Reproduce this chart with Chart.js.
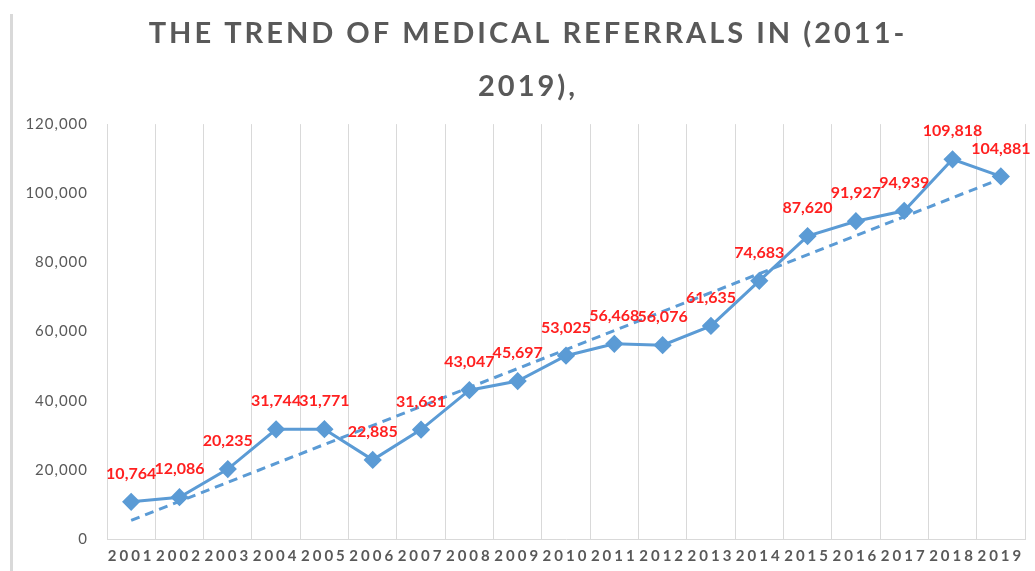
<!DOCTYPE html>
<html>
<head>
<meta charset="utf-8">
<script src="https://cdn.jsdelivr.net/npm/chart.js@4"></script>
<style>
  html, body { margin: 0; padding: 0; background: #fff; }
  #wrap { position: relative; width: 1035px; height: 571px; }
  #frame { position: absolute; left: 10px; top: 14px; width: 3px; height: 557px; background: #d9d9d9; }
  canvas { position: absolute; left: 0; top: 0; }
</style>
</head>
<body>
<div id="wrap">
  <div id="frame"></div>
  <canvas id="chart" width="1035" height="571"></canvas>
</div>
<script>
var years = ['2001', '2002', '2003', '2004', '2005', '2006', '2007', '2008', '2009', '2010',
             '2011', '2012', '2013', '2014', '2015', '2016', '2017', '2018', '2019'];
var referrals = [10764, 12086, 20235, 31744, 31771, 22885, 31631, 43047, 45697, 53025,
                 56468, 56076, 61635, 74683, 87620, 91927, 94939, 109818, 104881];
// dashed trend line, end values
var trendStart = 5400;
var trendEnd = 104200;
var yTicks = [0, 20000, 40000, 60000, 80000, 100000, 120000];
var titleLines = ['THE TREND OF MEDICAL REFERRALS IN (2011-', '2019),'];

var blue = '#5b9bd5';
var gray = '#595959';

function withSpacing(obj, method, px, dx) {
    var orig = obj[method];
    obj[method] = function () {
        var ctx = this.ctx;
        var prev = ctx.letterSpacing;
        ctx.save();
        ctx.letterSpacing = px;
        if (dx) ctx.translate(dx, 0);
        orig.apply(this, arguments);
        ctx.restore();
        ctx.letterSpacing = prev;
    };
}

var spacingPlugin = {
    id: 'spacing',
    beforeDraw: function (chart) {
        if (chart._spaced) return;
        chart._spaced = true;
        withSpacing(chart.scales.x, 'drawLabels', '3px');
        withSpacing(chart.scales.y, 'drawLabels', '1px');
        withSpacing(chart.titleBlock, 'draw', '3px', 14);
    }
};

var valueLabels = {
    id: 'valueLabels',
    afterDatasetsDraw: function (chart) {
        var ctx = chart.ctx;
        var meta = chart.getDatasetMeta(0);
        ctx.save();
        ctx.font = 'bold 16px Lato';
        ctx.fillStyle = '#ff2020';
        ctx.textAlign = 'center';
        ctx.textBaseline = 'middle';
        meta.data.forEach(function (pt, i) {
            ctx.fillText(referrals[i].toLocaleString('en-US'), pt.x, pt.y - 28);
        });
        ctx.restore();
    }
};

new Chart(document.getElementById('chart'), {
    type: 'line',
    data: {
        labels: years,
        datasets: [{
            label: 'Referrals',
            data: referrals,
            borderColor: blue,
            backgroundColor: blue,
            borderWidth: 3,
            pointStyle: 'rectRot',
            pointRadius: 7,
            pointHoverRadius: 7,
            tension: 0,
            order: 1
        }, {
            label: 'Trend',
            xAxisID: 'xt',
            data: [{ x: 0, y: trendStart }, { x: years.length - 1, y: trendEnd }],
            borderColor: blue,
            borderWidth: 3,
            borderDash: [9, 6],
            pointRadius: 0,
            fill: false,
            order: 2
        }]
    },
    options: {
        responsive: false,
        animation: false,
        layout: { padding: { left: 0, right: 7, top: 0, bottom: 0 } },
        plugins: {
            legend: { display: false },
            tooltip: { enabled: false },
            title: {
                display: true,
                text: titleLines,
                color: gray,
                font: { family: 'Lato', size: 29, weight: 'bold', lineHeight: 1.83 },
                padding: { top: 7, bottom: 11 }
            }
        },
        scales: {
            x: {
                offset: true,
                grid: { offset: true, color: '#d9d9d9', drawTicks: false },
                border: { color: '#d9d9d9' },
                ticks: {
                    color: gray,
                    font: { family: 'Lato', size: 15, weight: 'bold' },
                    padding: 8,
                    maxRotation: 0,
                    autoSkip: false
                },
                afterFit: function (s) { s.height = 32; }
            },
            xt: {
                type: 'linear',
                display: false,
                min: -0.5,
                max: years.length - 0.5
            },
            y: {
                min: 0,
                max: 120000,
                afterBuildTicks: function (s) {
                    s.ticks = yTicks.map(function (v) { return { value: v }; });
                },
                grid: { display: false, drawTicks: false },
                border: { color: '#d9d9d9' },
                ticks: {
                    color: gray,
                    font: { family: 'Lato', size: 15 },
                    padding: 19,
                    callback: function (v) { return v.toLocaleString('en-US'); }
                },
                afterFit: function (s) { s.width = 107; }
            }
        }
    },
    plugins: [spacingPlugin, valueLabels]
});
</script>
</body>
</html>
